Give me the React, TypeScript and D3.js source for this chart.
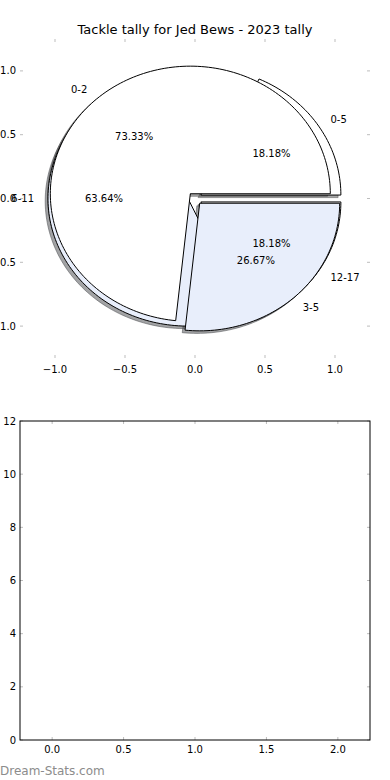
import React from 'react';
import * as d3 from 'd3';

const chartTitle = 'Tackle tally for Jed Bews - 2023 tally';
// first pie drawn (underneath)
const lowerLabels = ['0-5', '6-11', '12-17'];
const lowerValues = [2, 7, 2];
// second pie drawn (on top)
const upperLabels = ['0-2', '3-5'];
const upperValues = [11, 4];
const pieColors = ['#ffffff', '#e8eefb'];
const explode = 0.05;
const pieTicks = [-1, -0.5, 0, 0.5, 1];
const barXTicks = [0, 0.5, 1, 1.5, 2];
const barYTicks = [0, 2, 4, 6, 8, 10, 12];
const watermark = 'Dream-Stats.com';

const FONT = 'DejaVu Sans, sans-serif';
const TICK = '#bdbdbd';

type Slice = { label: string; pct: string; a0: number; a1: number; am: number; cx: number; cy: number; color: string };

function layout(labels: string[], values: number[]): Slice[] {
  const total = d3.sum(values);
  const arcs = d3.pie<number>().sort(null).startAngle(0).endAngle(2 * Math.PI)(values);
  return arcs.map((a, i) => {
    const am = (a.startAngle + a.endAngle) / 2;
    return {
      label: labels[i],
      pct: d3.format('.2f')((values[i] / total) * 100) + '%',
      a0: a.startAngle,
      a1: a.endAngle,
      am,
      cx: explode * Math.cos(am),
      cy: explode * Math.sin(am),
      color: pieColors[i % pieColors.length],
    };
  });
}

export default function App() {
  const W = 390, H = 780;
  const xP = d3.scaleLinear().domain([-1.25, 1.25]).range([20, 370]);
  const yP = d3.scaleLinear().domain([-1.25, 1.25]).range([358, 39]);
  const xB = d3.scaleLinear().domain([-0.225, 2.225]).range([20, 370]);
  const yB = d3.scaleLinear().domain([0, 12]).range([740, 421]);

  const line = d3.line<[number, number]>().x(d => xP(d[0])).y(d => yP(d[1]));
  const wedge = (cx: number, cy: number, a0: number, a1: number) => {
    const n = Math.max(8, Math.ceil(((a1 - a0) / (2 * Math.PI)) * 240));
    const pts: [number, number][] = [[cx, cy]];
    for (let k = 0; k <= n; k++) {
      const t = a0 + ((a1 - a0) * k) / n;
      pts.push([cx + Math.cos(t), cy + Math.sin(t)]);
    }
    return line(pts) + 'Z';
  };

  const lower = layout(lowerLabels, lowerValues);
  const upper = layout(upperLabels, upperValues);
  const all = [...lower, ...upper];

  const shadowColor = (c: string) => {
    const r = d3.rgb(c);
    return d3.rgb(r.r * 0.3, r.g * 0.3, r.b * 0.3).formatHex();
  };

  const [px0, px1] = xP.range();
  const [py0, py1] = [yP.range()[1], yP.range()[0]];
  const [bx0, bx1] = xB.range();
  const [by0, by1] = [yB.range()[1], yB.range()[0]];

  return (
    <svg width={W} height={H} style={{ position: 'absolute', left: 0, top: 0, background: '#fff' }} fontFamily={FONT}>
      <rect x={0} y={0} width={W} height={H} fill="#fff" />
      {/* top axes ticks */}
      {pieTicks.map(t => (
        <g key={'px' + t}>
          <line x1={xP(t)} x2={xP(t)} y1={py0} y2={py0 + 3} stroke={TICK} />
          <line x1={xP(t)} x2={xP(t)} y1={py1} y2={py1 - 3} stroke={TICK} />
          <line x1={px0} x2={px0 + 3} y1={yP(t)} y2={yP(t)} stroke={TICK} />
          <line x1={px1} x2={px1 - 3} y1={yP(t)} y2={yP(t)} stroke={TICK} />
        </g>
      ))}
      {/* shadows */}
      {all.map((s, i) => (
        <path key={'sh' + i} d={wedge(s.cx - 0.02, s.cy - 0.02, s.a0, s.a1)}
          fill={shadowColor(s.color)} fillOpacity={0.5}
          stroke={shadowColor(s.color)} strokeOpacity={0.5} strokeWidth={1} />
      ))}
      {/* wedges */}
      {all.map((s, i) => (
        <path key={'w' + i} d={wedge(s.cx, s.cy, s.a0, s.a1)} fill={s.color} stroke="#000" strokeWidth={1} strokeLinejoin="miter" />
      ))}
      {/* texts */}
      {all.map((s, i) => {
        const lx = s.cx + 1.1 * Math.cos(s.am);
        const ly = s.cy + 1.1 * Math.sin(s.am);
        const tx = s.cx + 0.6 * Math.cos(s.am);
        const ty = s.cy + 0.6 * Math.sin(s.am);
        return (
          <g key={'t' + i} fontSize={10} fill="#000">
            <text x={xP(lx)} y={yP(ly)} textAnchor={lx > 0 ? 'start' : 'end'} dominantBaseline="central">{s.label}</text>
            <text x={xP(tx)} y={yP(ty)} textAnchor="middle" dominantBaseline="central">{s.pct}</text>
          </g>
        );
      })}
      {/* top tick labels */}
      {pieTicks.map(t => (
        <text key={'pxl' + t} x={xP(t)} y={py1 + 11} fontSize={10} textAnchor="middle" dominantBaseline="central">
          {d3.format('.1f')(t).replace('-', '\u2212')}
        </text>
      ))}
      {pieTicks.map(t => (
        <text key={'pyl' + t} x={px0 - 4} y={yP(t)} fontSize={10} textAnchor="end" dominantBaseline="central">
          {d3.format('.1f')(t).replace('-', '\u2212')}
        </text>
      ))}
      <text x={(px0 + px1) / 2} y={py0 - 5} fontSize={13} textAnchor="middle">{chartTitle}</text>

      {/* bottom axes */}
      {barXTicks.map(t => (
        <g key={'bx' + t}>
          <line x1={xB(t)} x2={xB(t)} y1={by0} y2={by0 + 3} stroke={TICK} />
          <line x1={xB(t)} x2={xB(t)} y1={by1} y2={by1 - 3} stroke={TICK} />
          <text x={xB(t)} y={by1 + 9} fontSize={10} textAnchor="middle" dominantBaseline="central">{d3.format('.1f')(t)}</text>
        </g>
      ))}
      {barYTicks.map(t => (
        <g key={'by' + t}>
          <line x1={bx0} x2={bx0 + 3} y1={yB(t)} y2={yB(t)} stroke={TICK} />
          <line x1={bx1} x2={bx1 - 3} y1={yB(t)} y2={yB(t)} stroke={TICK} />
          <text x={bx0 - 4} y={yB(t)} fontSize={10} textAnchor="end" dominantBaseline="central">{t}</text>
        </g>
      ))}
      <rect x={bx0} y={by0} width={bx1 - bx0} height={by1 - by0} fill="none" stroke="#000" strokeWidth={1} />
      <text x={0} y={775} fontSize={12} fill="#8c8c8c">{watermark}</text>
    </svg>
  );
}
